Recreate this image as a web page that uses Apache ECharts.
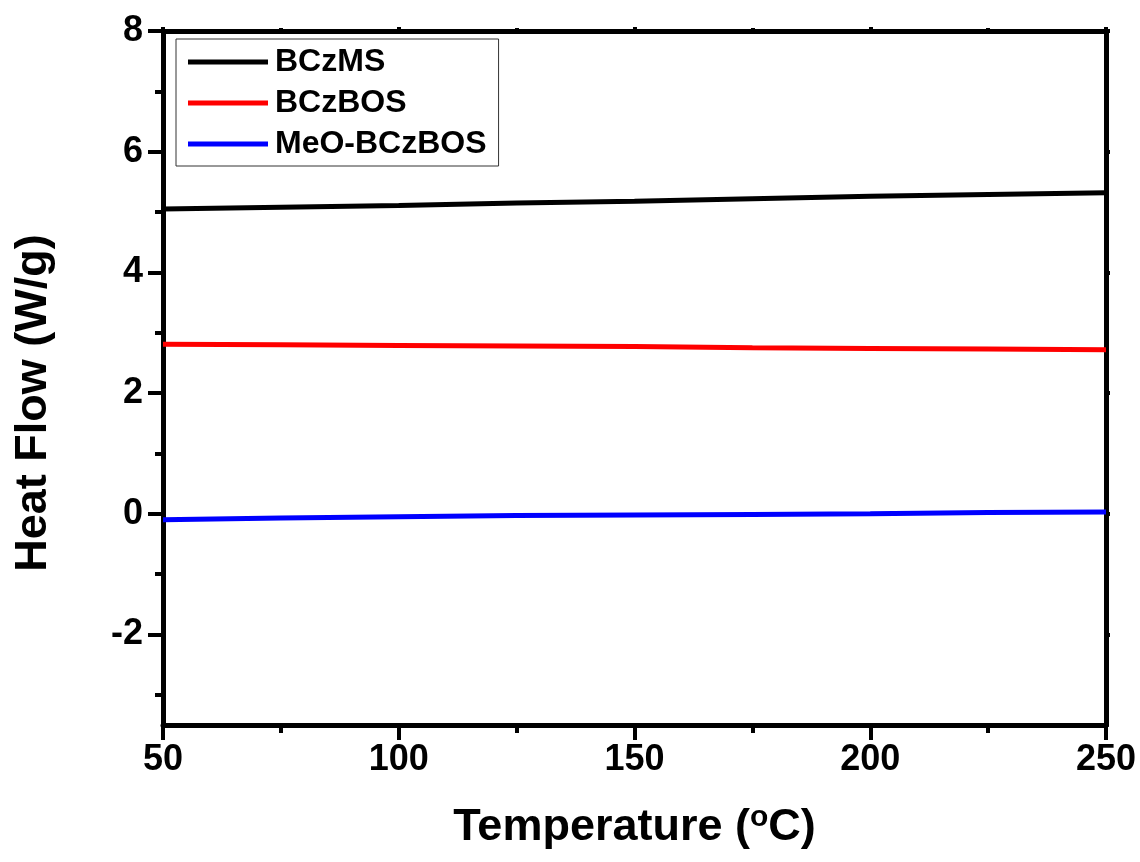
<!DOCTYPE html>
<html>
<head>
<meta charset="utf-8">
<script src="https://cdn.jsdelivr.net/npm/echarts@6/dist/echarts.min.js"></script>
<style>html,body{margin:0;padding:0;background:#fff}#c{width:1140px;height:862px}</style>
</head>
<body>
<div id="c"></div>
<script>
const temperature = [50, 75, 100, 125, 150, 175, 200, 225, 250];
const bczms = [5.05, 5.08, 5.11, 5.15, 5.18, 5.22, 5.26, 5.29, 5.32];
const bczbos = [2.81, 2.80, 2.79, 2.78, 2.77, 2.75, 2.74, 2.73, 2.72];
const meoBczbos = [-0.10, -0.07, -0.05, -0.03, -0.02, -0.01, 0.00, 0.02, 0.03];
const seriesNames = ['BCzMS', 'BCzBOS', 'MeO-BCzBOS'];
const yMajorTicks = [-2, 0, 2, 4, 6, 8];
const yMinorTicks = [-3, -1, 1, 3, 5, 7];

const FONT = '"Liberation Sans", Arial, sans-serif';
const AX = {color: '#000', width: 5};

function pairs(ys) { return temperature.map((t, i) => [t, ys[i]]); }

const chart = echarts.init(document.getElementById('c'), null, {renderer: 'canvas'});

function yAx(pos, values, len, label) {
  return {
    type: 'value', position: pos, min: -3.5, max: 8,
    axisLine: {show: true, onZero: false, lineStyle: AX},
    axisTick: {show: true, inside: false, length: len, customValues: values, lineStyle: {color: '#000', width: 4}},
    axisLabel: label ? {show: true, customValues: values, fontFamily: FONT, fontWeight: 'bold', fontSize: 36, color: '#000', margin: 20} : {show: false},
    splitLine: {show: false}
  };
}

const option = {
  backgroundColor: '#fff',
  animation: false,
  grid: {left: 163, right: 34, top: 31, bottom: 137, containLabel: false},
  legend: {
    orient: 'vertical', left: 176, top: 39,
    padding: [7, 12, 6, 12],
    borderColor: '#333', borderWidth: 1,
    icon: 'rect',
    itemWidth: 80, itemHeight: 5, itemGap: 9,
    textStyle: {fontFamily: FONT, fontWeight: 'bold', fontSize: 32, color: '#000', lineHeight: 32, padding: [0, 0, 0, 2]},
    data: seriesNames
  },
  xAxis: [
    {
      type: 'value', position: 'bottom', min: 50, max: 250, interval: 50,
      axisLine: {show: true, onZero: false, lineStyle: AX},
      axisTick: {show: true, inside: false, length: 15, lineStyle: {color: '#000', width: 4}},
      minorTick: {show: true, splitNumber: 2, length: 8, lineStyle: {color: '#000', width: 4}},
      axisLabel: {fontFamily: FONT, fontWeight: 'bold', fontSize: 36, color: '#000', margin: 17},
      splitLine: {show: false}, minorSplitLine: {show: false},
      name: 'Temperature ({sup|o}C)', nameLocation: 'middle', nameGap: 78,
      nameTextStyle: {
        fontFamily: FONT, fontWeight: 'bold', fontSize: 45, color: '#000',
        rich: {sup: {fontFamily: FONT, fontWeight: 'bold', fontSize: 30, color: '#000', verticalAlign: 'top', padding: [0, 0, 20, 0]}}
      }
    },
    {
      type: 'value', position: 'top', min: 50, max: 250, interval: 50,
      axisLine: {show: true, onZero: false, lineStyle: AX},
      axisTick: {show: true, inside: false, length: 4, lineStyle: {color: '#000', width: 4}},
      minorTick: {show: true, splitNumber: 2, length: 3, lineStyle: {color: '#000', width: 4}},
      axisLabel: {show: false}, splitLine: {show: false}
    }
  ],
  yAxis: [
    yAx('left', yMajorTicks, 15, true),
    yAx('left', yMinorTicks, 8, false),
    yAx('right', yMajorTicks, 4, false),
    yAx('right', yMinorTicks, 3, false)
  ],
  graphic: [{
    type: 'text', x: 34, y: 403, rotation: Math.PI / 2,
    style: {text: 'Heat Flow (W/g)', fontFamily: FONT, fontWeight: 'bold', fontSize: 45, fill: '#000', align: 'center', verticalAlign: 'middle'}
  }],
  series: [
    {name: seriesNames[0], type: 'line', data: pairs(bczms), symbol: 'none', lineStyle: {color: '#000000', width: 5}, itemStyle: {color: '#000000'}},
    {name: seriesNames[1], type: 'line', data: pairs(bczbos), symbol: 'none', lineStyle: {color: '#ff0000', width: 5}, itemStyle: {color: '#ff0000'}},
    {name: seriesNames[2], type: 'line', data: pairs(meoBczbos), symbol: 'none', lineStyle: {color: '#0000ff', width: 5}, itemStyle: {color: '#0000ff'}}
  ]
};
chart.setOption(option);
</script>
</body>
</html>
